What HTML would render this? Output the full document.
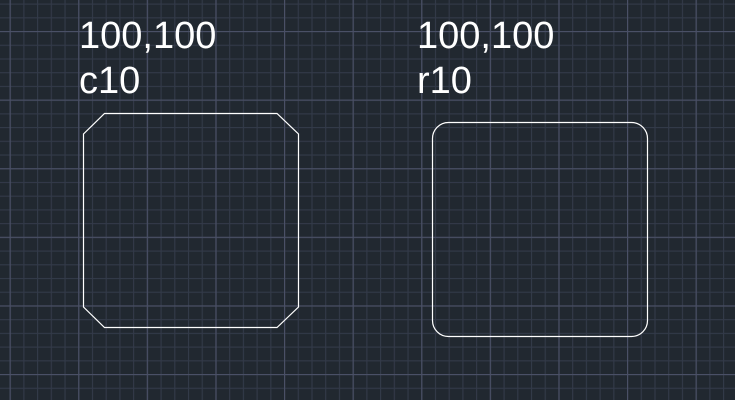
<!DOCTYPE html>
<html><head><style>
html,body{margin:0;padding:0;background:#212830;}
svg{display:block}
text{font-family:"Liberation Sans",sans-serif;fill:#fff;font-size:38px}
</style></head><body>
<svg width="735" height="400" viewBox="0 0 735 400" xmlns="http://www.w3.org/2000/svg">
<rect width="735" height="400" fill="#212830"/>
<defs>
<pattern id="minor" x="9.6" y="31" width="13.72" height="13.72" patternUnits="userSpaceOnUse">
<path d="M0.5 0V13.72M0 0.5H13.72" stroke="#333a49" stroke-width="1.2" fill="none"/>
</pattern>
<pattern id="major" x="9.6" y="31" width="68.6" height="68.6" patternUnits="userSpaceOnUse">
<path d="M0.5 0V68.6M0 0.5H68.6" stroke="#4a5066" stroke-width="1.3" fill="none"/>
</pattern>
</defs>
<rect width="735" height="400" fill="url(#minor)"/>
<rect width="735" height="400" fill="url(#major)"/>
<polygon points="104.5,113.5 277,113.5 298.5,134 298.5,307 277,327.5 104.5,327.5 83.5,307 83.5,134" fill="none" stroke="#fff" stroke-width="1.2"/>
<rect x="432.5" y="122.5" width="215" height="214" rx="16" ry="16" fill="none" stroke="#fff" stroke-width="1.2"/>
<text x="79" y="48">100,100</text>
<text x="79" y="93">c10</text>
<text x="417" y="48">100,100</text>
<text x="417" y="93">r10</text>
</svg>
</body></html>
